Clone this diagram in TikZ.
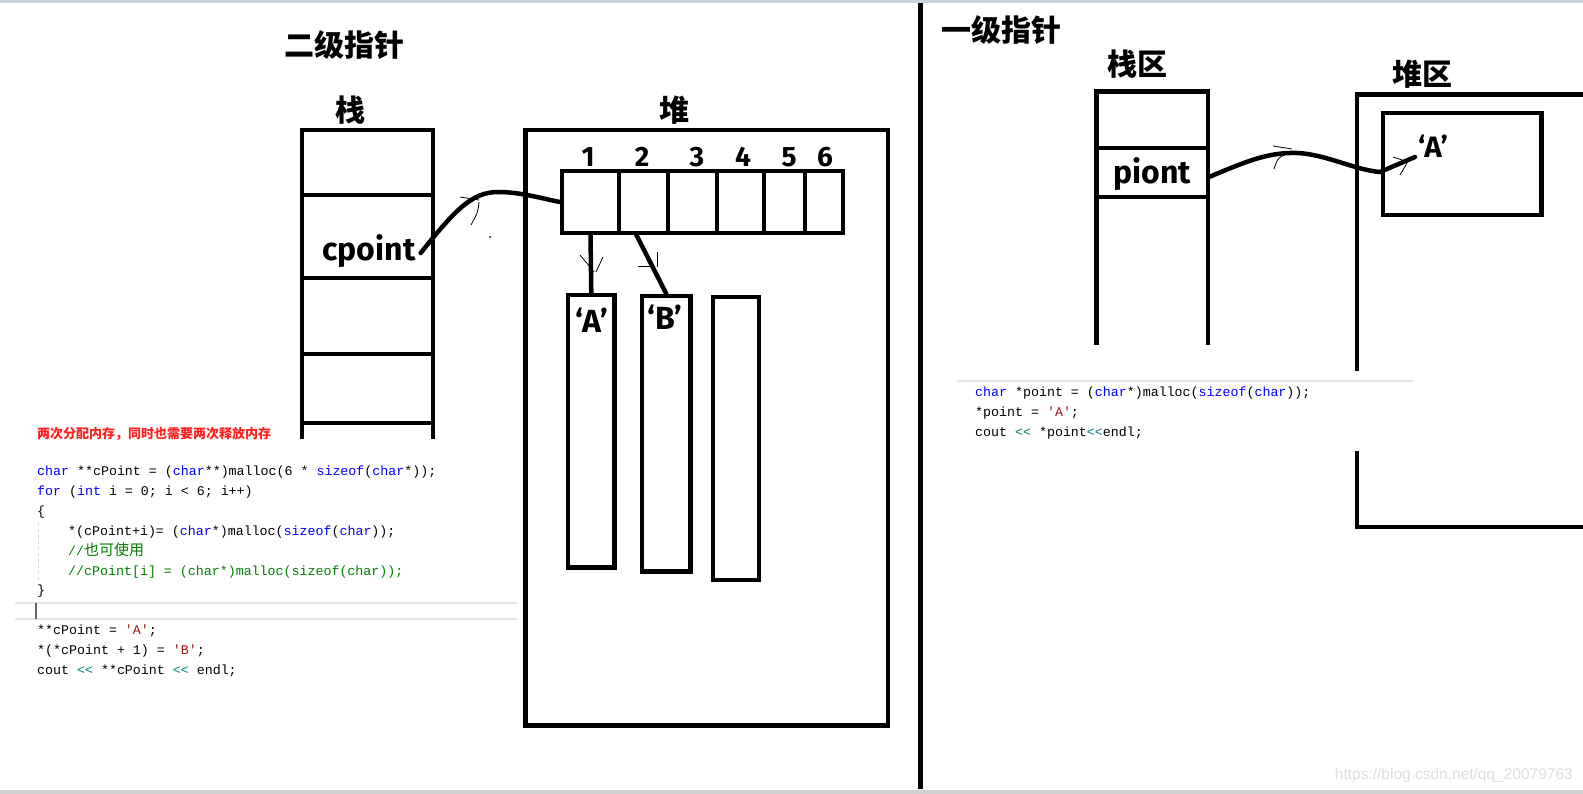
\documentclass[tikz,border=0pt]{standalone}
\usepackage{fontspec}
\newfontfamily\cjk{Noto Sans CJK SC}
\newfontfamily\lab{Fira Sans}
\newfontfamily\codefont{Liberation Mono}
\newfontfamily\wmfont{Liberation Sans}
\definecolor{kwc}{HTML}{0000FF}
\definecolor{cmc}{HTML}{008000}
\definecolor{chc}{HTML}{A31515}
\definecolor{opc}{HTML}{008080}
\definecolor{sepc}{HTML}{E4E4EE}
\definecolor{topband}{HTML}{C8D0E0}
\definecolor{botband}{HTML}{D0D0D0}
\definecolor{notec}{HTML}{FF2020}
\definecolor{wmc}{HTML}{DEDEDE}
\newcommand\ckw[1]{\textcolor{kwc}{#1}}
\newcommand\ccm[1]{\textcolor{cmc}{#1}}
\newcommand\cch[1]{\textcolor{chc}{#1}}
\newcommand\cop[1]{\textcolor{opc}{#1}}
\begin{document}
\begin{tikzpicture}[x=1pt,y=-1pt,
  heavy/.style={line width=4.5pt},
  cellbox/.style={draw,line width=4.5pt,inner sep=0pt,minimum height=62pt},
  membox/.style={draw,line width=4.5pt,inner sep=0pt},
  conn/.style={line width=4.5pt,line cap=round},
  hand/.style={line width=0.8pt},
  heading/.style={inner sep=0pt,font=\cjk\bfseries\fontsize{30}{30}\selectfont},
  lbl/.style={inner sep=0pt,font=\lab\bfseries\fontsize{32}{32}\selectfont},
  num/.style={inner sep=0pt,anchor=base,font=\lab\bfseries\fontsize{28}{28}\selectfont},
  code/.style={inner sep=0pt,anchor=base west,font=\codefont\fontsize{13.3}{15}\selectfont},
  sepline/.style={draw=sepc,line width=2pt}]
\useasboundingbox (0,0) rectangle (1583,794);
\fill[white] (0,0) rectangle (1583,794);
\fill[topband] (0,0) rectangle (1583,3);
\fill[botband] (0,790) rectangle (1583,794);

% ---------- left: second-level pointer ----------
\node[heading] (t2) at (344.5,45.5) {二级指针};
\node[heading] (zhan) at (350,110) {栈};
\node[heading] (dui) at (674,110) {堆};

% stack
\draw[heavy] (302,439) -- (302,130) -- (433,130) -- (433,439);
\draw[heavy] (302,195) -- (433,195);
\draw[heavy] (302,278) -- (433,278);
\draw[heavy] (302,354) -- (433,354);
\draw[heavy] (302,423) -- (433,423);
\node[lbl] (cpoint) at (369,251) {cpoint};

% heap
\draw[heavy] (525.5,130) rectangle (888,725.5);
\node[cellbox,minimum width=57pt] (c1) at (590.5,202) {};
\node[cellbox,minimum width=49pt] (c2) at (643.5,202) {};
\node[cellbox,minimum width=49pt] (c3) at (692.5,202) {};
\node[cellbox,minimum width=47pt] (c4) at (740.5,202) {};
\node[cellbox,minimum width=41pt] (c5) at (784.5,202) {};
\node[cellbox,minimum width=38pt] (c6) at (824,202) {};
\node[num] (n1) at (588,167) {1};
\node[num] (n2) at (642,167) {2};
\node[num] (n3) at (697,167) {3};
\node[num] (n4) at (743,167) {4};
\node[num] (n5) at (789,167) {5};
\node[num] (n6) at (825,167) {6};

\node[membox,minimum width=46.5pt,minimum height=272.5pt] (boxA) at (591.3,431.3) {};
\node[membox,minimum width=48.5pt,minimum height=275.5pt] (boxB) at (666.3,433.8) {};
\node[membox,minimum width=46pt,minimum height=283pt] (boxC) at (736,438.5) {};
\node[lbl,anchor=base,font=\lab\bfseries\fontsize{32}{32}\selectfont] (lA) at (592,333) {‘A’};
\node[lbl,anchor=base,font=\lab\bfseries\fontsize{32}{32}\selectfont] (lB) at (665,330) {‘B’};

% connectors
\draw[conn] ([xshift=5pt,yshift=-2pt]cpoint.east) .. controls (455,210) and (472,192) .. (498,192) .. controls (520,192) and (540,198) .. (c1.west);
\draw[conn] (c1.south) -- (boxA.north);
\draw[conn] ([xshift=-7pt]c2.south) -- (boxB.north);
% hand drawn arrow marks
\draw[hand] (460,197) -- (479,200);
\draw[hand] (479,202) .. controls (478,212) .. (471,225);
\fill (490,237) circle (1);
\draw[hand] (580,255) .. controls (586,262) .. (594,272);
\draw[hand] (603,257) .. controls (599,264) .. (596,272);
\draw[hand] (638,266) -- (653,266);
\draw[hand] (657,252) -- (657,267);

% code
\node[inner sep=0pt,anchor=west,text=notec,font=\cjk\bfseries\fontsize{13}{14}\selectfont] (note) at (37,434) {两次分配内存，同时也需要两次释放内存};
\node[code] (l1) at (37,475.5) {\ckw{char} **cPoint = (\ckw{char}**)malloc(6 * \ckw{sizeof}(\ckw{char}*));};
\node[code] (l2) at (37,495.5) {\ckw{for} (\ckw{int} i = 0; i < 6; i++)};
\node[code] (l3) at (37,515.5) {\{};
\node[code] (l4) at (68,535.5) {*(cPoint+i)= (\ckw{char}*)malloc(\ckw{sizeof}(\ckw{char}));};
\node[code] (l5) at (68,555.5) {\ccm{//{\cjk\fontsize{15}{15}\selectfont 也可使用}}};
\node[code] (l6) at (68,575.5) {\ccm{//cPoint[i] = (char*)malloc(sizeof(char));}};
\node[code] (l7) at (37,594.5) {\}};
\draw[dashed,draw=gray!35,line width=1pt] (38,523) -- (38,580);
\draw[sepline] (15,603) -- (517,603);
\draw[sepline] (15,619) -- (517,619);
\draw[draw=black!60,line width=1.5pt] (36,603) -- (36,619);
\node[code] (l8) at (37,634.5) {**cPoint = \cch{'A'};};
\node[code] (l9) at (37,654.5) {*(*cPoint + 1) = \cch{'B'};};
\node[code] (l10) at (37,674.5) {cout \cop{<<} **cPoint \cop{<<} endl;};

% ---------- divider ----------
\draw[line width=4.5pt] (920.5,3) -- (920.5,789);

% ---------- right: first-level pointer ----------
\node[heading] (t1) at (1001,30) {一级指针};
\node[heading] (zhanqu) at (1137,64) {栈区};
\node[heading] (duiqu) at (1422,74) {堆区};

\draw[heavy] (1096.5,345) -- (1096.5,91.5) -- (1208,91.5) -- (1208,345);
\node[draw,line width=4.5pt,inner sep=0pt,minimum width=111.5pt,minimum height=49pt] (pcell) at (1152.25,172.5) {};
\node[lbl] (piont) at (1152,174.5) {piont};

\draw[heavy] (1583,94.5) -- (1357,94.5) -- (1357,371);
\draw[heavy] (1357,451) -- (1357,527) -- (1583,527);
\node[membox,minimum width=158.5pt,minimum height=102pt] (inner) at (1462.25,164) {};
\node[lbl,anchor=base,font=\lab\bfseries\fontsize{29.5}{30}\selectfont] (rA) at (1433,158) {‘A’};
\coordinate (aend) at (1415,157);
\draw[conn] ([yshift=-4pt]pcell.east) .. controls (1245,162) and (1268,152) .. (1297,153) .. controls (1325,154) and (1355,170) .. (1380,172) -- (aend);
\draw[hand] (1273,146) -- (1292,149);
\draw[hand] (1274,169) .. controls (1278,157) .. (1293,152);
\draw[hand] (1393,157) -- (1408,162);
\draw[hand] (1400,175) -- (1407,163);

\draw[sepline] (957,381) -- (1413,381);
\node[code] (r1) at (975,396.5) {\ckw{char} *point = (\ckw{char}*)malloc(\ckw{sizeof}(\ckw{char}));};
\node[code] (r2) at (975,416.5) {*point = \cch{'A'};};
\node[code] (r3) at (975,436.5) {cout \cop{<<} *point\cop{<<}endl;};

\node[inner sep=0pt,anchor=east,text=wmc,font=\wmfont\fontsize{15.5}{16}\selectfont] (wm) at (1573,775) {https://blog.csdn.net/qq\_20079763};
\end{tikzpicture}
\end{document}
